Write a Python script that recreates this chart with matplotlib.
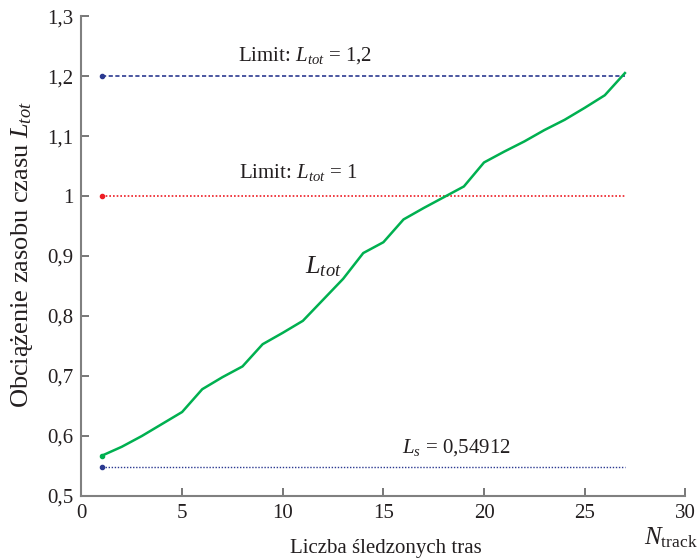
import matplotlib
matplotlib.use("Agg")
import matplotlib.pyplot as plt
from matplotlib.ticker import FuncFormatter, MultipleLocator

plt.rcParams['font.family'] = ['Liberation Serif', 'DejaVu Serif']
plt.rcParams['mathtext.fontset'] = 'custom'
plt.rcParams['mathtext.rm'] = 'Liberation Serif'
plt.rcParams['mathtext.it'] = 'Liberation Serif:italic'

n_track = list(range(1, 28))
l_tot = [0.567, 0.582, 0.600, 0.620, 0.640, 0.678, 0.698, 0.716, 0.753, 0.772,
         0.792, 0.827, 0.862, 0.905, 0.923, 0.961, 0.980, 0.998, 1.016, 1.056,
         1.074, 1.091, 1.110, 1.127, 1.147, 1.168, 1.205]
limit_hi = 1.2
limit_lo = 1.0
l_s = 0.54912
line_x = [1, 27]

fig = plt.figure(figsize=(7, 5.6), dpi=100)
ax = fig.add_axes([0.1164, 0.1143, 0.8626, 0.857])

ax.plot(line_x, [limit_hi, limit_hi], color='#2b3990', lw=1.2, ls=(0, (2.5, 1.5)))
ax.plot([line_x[0]], [limit_hi], 'o', color='#2b3990', ms=3)
ax.plot(line_x, [limit_lo, limit_lo], color='#ed1c24', lw=1.2, ls=(0, (1, 1.2)))
ax.plot([line_x[0]], [limit_lo], 'o', color='#ed1c24', ms=3)
ax.plot(line_x, [l_s, l_s], color='#2b3990', lw=1.0, ls=(0, (1, 1.2)))
ax.plot([line_x[0]], [l_s], 'o', color='#2b3990', ms=3)
ax.plot(n_track, l_tot, color='#00b050', lw=1.8)
ax.plot([n_track[0]], [l_tot[0]], 'o', color='#00b050', ms=3)

ax.set_xlim(0, 30)
ax.set_ylim(0.5, 1.3)
ax.xaxis.set_major_locator(MultipleLocator(5))
ax.yaxis.set_major_locator(MultipleLocator(0.1))
fmt = FuncFormatter(lambda v, p: ('%g' % round(v, 2)).replace('.', ','))
ax.yaxis.set_major_formatter(fmt)
ax.xaxis.set_major_formatter(fmt)

for s in ['top', 'right']:
    ax.spines[s].set_visible(False)
for s in ['left', 'bottom']:
    ax.spines[s].set_color('#808080')
    ax.spines[s].set_linewidth(1.5)
ax.tick_params(direction='in', length=6, width=1.2, color='#606060',
               labelsize=15, labelcolor='#231f20', pad=6)

tc = '#231f20'
ax.text(11.1, 1.235, 'Limit: $L_{tot}$ = 1,2', fontsize=15, color=tc, ha='center', va='center')
ax.text(10.75, 1.04, 'Limit: $L_{tot}$ = 1', fontsize=15, color=tc, ha='center', va='center')
ax.text(12.0, 0.882, '$L_{tot}$', fontsize=19, color=tc, ha='center', va='center')
ax.text(18.65, 0.58, '$L_s$ = 0,54912', fontsize=15, color=tc, ha='center', va='center')

fig.text(386 / 700, 1 - 548 / 560, 'Liczba śledzonych tras', fontsize=15, color=tc,
         ha='center', va='center')
fig.text(698 / 700, 1 - 538 / 560, '$N_{\\mathrm{track}}$', fontsize=18, color=tc,
         ha='right', va='center')
fig.text(22 / 700, 1 - 255 / 560, 'Obciążenie zasobu czasu $L_{tot}$', fontsize=19,
         color=tc, ha='center', va='center', rotation=90)

fig.savefig('out.png', dpi=100)
